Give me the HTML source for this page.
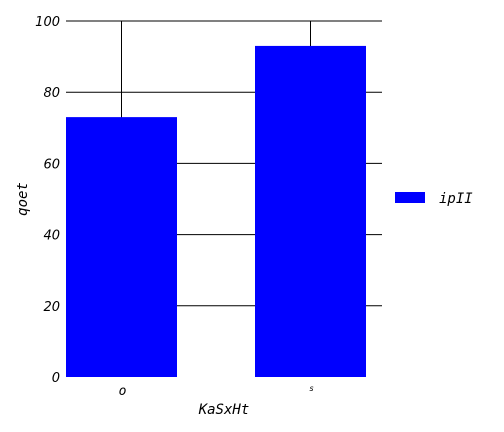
<!DOCTYPE html>
<html><head><meta charset="utf-8">
<style>
html,body{margin:0;padding:0;background:#fff;width:504px;height:432px;overflow:hidden}
text{font-family:"DejaVu Sans","Liberation Sans",sans-serif;font-style:italic}
.mono{font-family:"DejaVu Sans Mono","Liberation Mono",monospace}
</style></head>
<body>
<svg id="chart" width="504" height="432" xmlns="http://www.w3.org/2000/svg">
<g id="grid"></g>
<g id="bars"></g>
<g id="yticks"></g>
<g id="xticks"></g>
<text class="mono" x="0" y="0" transform="translate(27,199) rotate(-90)" text-anchor="middle" font-size="14">qoet</text>
<text class="mono" x="224" y="414" text-anchor="middle" font-size="14">KaSxHt</text>
<g>
<rect x="395" y="192" width="30" height="11" fill="#0000ff"/>
<text class="mono" x="439" y="203" font-size="14">ipII</text>
</g>
</svg>
<script>
const categories = ["o", "s"];
const values = [73, 93];
const yTicks = [0, 20, 40, 60, 80, 100];
const catFontSizes = [13, 8];

const NS = "http://www.w3.org/2000/svg";
const x0 = 66, x1 = 382, yTop = 21, yBot = 377;
const yMax = 100;
function yScale(v){ return yBot - (v / yMax) * (yBot - yTop); }
const barW = 111;
const step = 189;
function xCenter(i){ return x0 + barW / 2 + step * i; }
function mk(tag, attrs, parent){
  const e = document.createElementNS(NS, tag);
  for (const k in attrs) e.setAttribute(k, attrs[k]);
  parent.appendChild(e);
  return e;
}
const grid = document.getElementById('grid');
const bars = document.getElementById('bars');
const yt = document.getElementById('yticks');
const xt = document.getElementById('xticks');

yTicks.forEach(t => {
  const y = yScale(t);
  if (t > 0) {
    const l = mk('line', {x1: x0, x2: x1, y1: y, y2: y, stroke: '#000', 'stroke-width': 1}, grid);
    
    
  }
  const tx = mk('text', {x: 60, y: y + 5, 'text-anchor': 'end', 'font-size': 13}, yt);
  tx.textContent = t;
  
  
});
categories.forEach((c, i) => {
  const cx = xCenter(i);
  const vl = mk('line', {x1: cx, x2: cx, y1: yTop, y2: yBot, stroke: '#000', 'stroke-width': 1}, grid);
  
  
  const y = yScale(values[i]);
  const r = mk('rect', {x: cx - barW / 2, y: y, width: barW, height: yBot - y, fill: '#0000ff'}, bars);
  
  
  const tx = mk('text', {x: cx + 1, y: catFontSizes[i] > 10 ? 395 : 391, 'text-anchor': 'middle', 'font-size': catFontSizes[i], 'class': 'mono'}, xt);
  tx.textContent = c;
  
  
});
</script>
</body></html>
